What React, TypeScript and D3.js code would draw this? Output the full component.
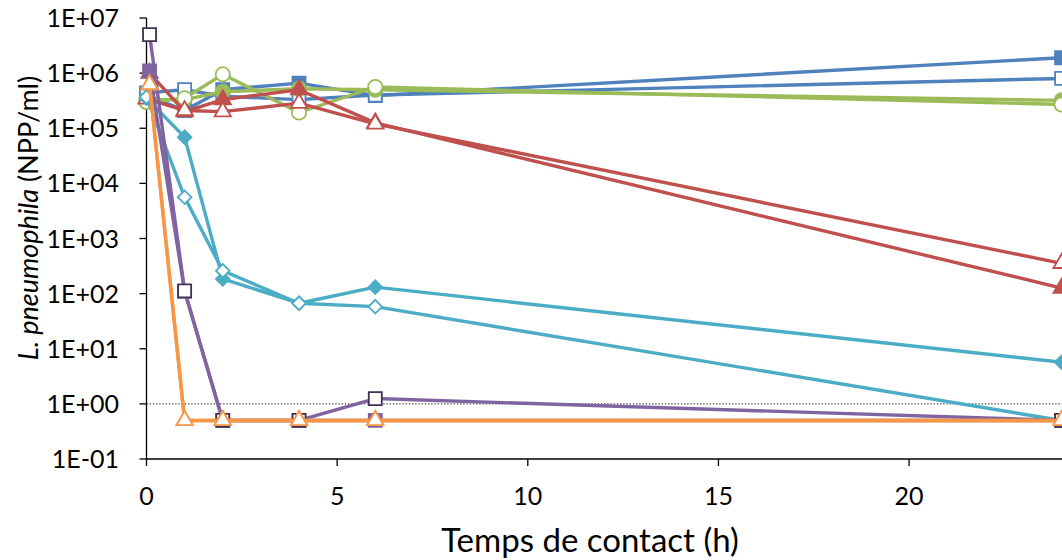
import React from "react";
import * as d3 from "d3";

// Sampling times (hours); some series were first sampled 5 min after contact
const timesA = [0, 1, 2, 4, 6, 24];
const timesB = [0.08, 1, 2, 4, 6, 24];

// L. pneumophila counts (NPP/ml); 0.5 marks "below detection"
const blueFilled = [4.0e5, 2.1e5, 5.0e5, 6.6e5, 3.9e5, 1.9e6];
const blueOpen = [4.4e5, 5.0e5, 3.8e5, 3.3e5, 4.0e5, 8.0e5];
const greenFilled = [3.3e5, 3.3e5, 4.6e5, 5.2e5, 5.0e5, 3.2e5];
const greenOpen = [3.0e5, 3.5e5, 9.5e5, 1.93e5, 5.6e5, 2.7e5];
const redFilled = [1.0e6, 2.0e5, 3.3e5, 5.0e5, 1.25e5, 1.26e2];
const redOpen = [3.4e5, 2.1e5, 2.0e5, 2.85e5, 1.2e5, 3.55e2];
const cyanFilled = [3.5e5, 6.9e4, 1.85e2, 6.7e1, 1.31e2, 5.7];
const cyanOpen = [3.7e5, 5.6e3, 2.6e2, 6.7e1, 5.8e1, 0.5];
const purpleFilled = [1.1e6, 1.1e2, 0.5, 0.5, 0.5, 0.5];
const purpleOpen = [5.0e6, 1.12e2, 0.5, 0.5, 1.25, 0.5];
const orangeFilled = [6.2e5, 0.5, 0.5, 0.5, 0.5, 0.5];
const orangeOpen = [6.2e5, 0.5, 0.5, 0.5, 0.5, 0.5];

const xTicks = [0, 5, 10, 15, 20];
const yTicks = [1e-1, 1, 1e1, 1e2, 1e3, 1e4, 1e5, 1e6, 1e7];
const yTickLabels = ["1E-01", "1E+00", "1E+01", "1E+02", "1E+03", "1E+04", "1E+05", "1E+06", "1E+07"];
const detectionLimit = 1;

type Shape = "square" | "circle" | "triangle" | "diamond";
interface Series {
  times: number[];
  values: number[];
  color: string;
  shape: Shape;
  filled: boolean;
  edge?: string;
}

const series: Series[] = [
  { times: timesA, values: blueFilled, color: "#4F81BD", shape: "square", filled: true },
  { times: timesA, values: blueOpen, color: "#4F81BD", shape: "square", filled: false },
  { times: timesA, values: greenFilled, color: "#9BBB59", shape: "circle", filled: true },
  { times: timesA, values: greenOpen, color: "#9BBB59", shape: "circle", filled: false },
  { times: timesB, values: redFilled, color: "#C0504D", shape: "triangle", filled: true },
  { times: timesA, values: redOpen, color: "#C0504D", shape: "triangle", filled: false },
  { times: timesA, values: cyanFilled, color: "#4BACC6", shape: "diamond", filled: true },
  { times: timesA, values: cyanOpen, color: "#4BACC6", shape: "diamond", filled: false },
  { times: timesB, values: purpleFilled, color: "#8064A2", shape: "square", filled: true },
  { times: timesB, values: purpleOpen, color: "#8064A2", shape: "square", filled: false, edge: "#403152" },
  { times: timesB, values: orangeFilled, color: "#F79646", shape: "triangle", filled: true },
  { times: timesB, values: orangeOpen, color: "#F79646", shape: "triangle", filled: false },
];

const W = 1062;
const H = 560;
const left = 146.5;
const right = 1061.6;
const top = 18;
const bottom = 459;

const FONT = "Lato, 'Open Sans', sans-serif";

const symbolPaths: Record<Shape, string> = {
  square: d3.symbol(d3.symbolSquare, 169)() as string,
  circle: d3.symbol(d3.symbolCircle, 160)() as string,
  triangle: d3.symbol(d3.symbolTriangle, 115)() as string,
  diamond: d3.symbol(d3.symbolSquare, 92)() as string,
};

export default function App() {
  const x = d3.scaleLinear().domain([0, 24]).range([left, right]);
  const y = d3.scaleLog().domain([1e-1, 1e7]).range([bottom, top]);
  const line = d3
    .line<[number, number]>()
    .x((d) => x(d[0]))
    .y((d) => y(d[1]));

  return (
    <svg
      width={W}
      height={H}
      style={{ position: "absolute", left: 0, top: 0, background: "#fff" }}
      fontFamily={FONT}
    >
      {/* detection limit */}
      <line
        x1={left}
        x2={W}
        y1={y(detectionLimit)}
        y2={y(detectionLimit)}
        stroke="#000"
        strokeWidth={1}
        strokeDasharray="1.2 2"
      />

      {/* axes */}
      <line x1={left} x2={left} y1={top} y2={bottom} stroke="#000" strokeWidth={1.3} />
      <line x1={left} x2={W} y1={bottom} y2={bottom} stroke="#000" strokeWidth={1.3} />
      {yTicks.map((t, i) => (
        <g key={"y" + i}>
          <line x1={left - 7} x2={left} y1={y(t)} y2={y(t)} stroke="#000" strokeWidth={1.3} />
          <text x={119} y={y(t)} dy="0.36em" textAnchor="end" fontSize={25} fill="#000">
            {yTickLabels[i]}
          </text>
        </g>
      ))}
      {xTicks.map((t) => (
        <g key={"x" + t}>
          <line x1={x(t)} x2={x(t)} y1={bottom} y2={bottom + 7} stroke="#000" strokeWidth={1.3} />
          <text x={x(t)} y={505} textAnchor="middle" fontSize={25} fill="#000">
            {t}
          </text>
        </g>
      ))}

      {/* axis titles */}
      <text x={590} y={552} textAnchor="middle" fontSize={33} fill="#000">
        Temps de contact (h)
      </text>
      <text
        transform={`translate(38,${218}) rotate(-90)`}
        textAnchor="middle"
        fontSize={27}
        fill="#000"
      >
        <tspan fontStyle="italic">L. pneumophila</tspan> (NPP/ml)
      </text>

      {/* series */}
      {series.map((s, i) => {
        const pts = s.times.map((t, j) => [t, s.values[j]] as [number, number]);
        return (
          <g key={"s" + i}>
            <path d={line(pts) as string} fill="none" stroke={s.color} strokeWidth={3.4} strokeLinejoin="round" />
            {pts.map((p, j) => (
              <path
                key={j}
                d={symbolPaths[s.shape]}
                transform={`translate(${x(p[0])},${y(p[1])})${s.shape === "diamond" ? " rotate(45)" : ""}`}
                fill={s.filled ? s.color : "#fff"}
                stroke={s.edge ?? s.color}
                strokeWidth={1.8}
              />
            ))}
          </g>
        );
      })}
    </svg>
  );
}
